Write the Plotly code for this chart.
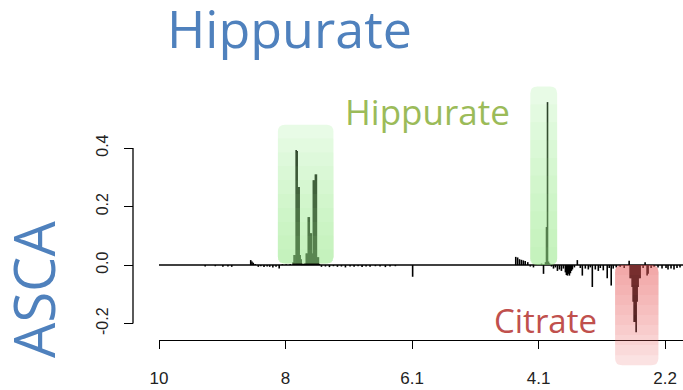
import numpy as np
import plotly.graph_objects as go

# ---------------- data ----------------
tick_ppm = [10, 8, 6.1, 4.1, 2.2]
tick_labels = ["10", "8", "6.1", "4.1", "2.2"]

y_ticks = [-0.2, 0.0, 0.2, 0.4]
y_tick_labels = ["-0.2", "0.0", "0.2", "0.4"]

spectrum_start = 10.0
spectrum_end = 1.93

ppm = [
    9.27, 9.11, 8.99, 8.91, 8.85, 8.55, 8.53, 8.51, 8.48, 8.43, 8.39, 8.34, 8.29, 8.25, 8.20, 8.15, 8.10,
    8.05, 7.99, 7.93,
    7.886, 7.871, 7.856, 7.840, 7.825, 7.810, 7.795, 7.780, 7.764, 7.749, 7.734, 7.719, 7.703,
    7.688, 7.673, 7.658, 7.643, 7.627, 7.612, 7.597, 7.582, 7.567, 7.551, 7.536, 7.521, 7.506, 7.49,
    7.46, 7.40, 7.34, 7.28, 7.22, 7.16, 7.10, 7.03, 6.97, 6.91, 6.85, 6.79, 6.73, 6.65, 6.58, 6.50,
    6.43, 6.35, 6.09,
    4.46, 4.43, 4.40, 4.37, 4.34, 4.31, 4.27, 4.23, 4.18,
    4.055, 4.025, 3.995, 3.980, 3.965, 3.950, 3.935, 3.905, 3.875, 3.846, 3.816, 3.786, 3.756,
    3.726, 3.696, 3.681, 3.666, 3.651, 3.636, 3.621, 3.606, 3.591, 3.561, 3.517, 3.472, 3.442,
    3.397, 3.352, 3.322, 3.292, 3.247, 3.202, 3.172, 3.127, 3.068, 3.038, 3.008, 2.978, 2.933,
    2.873, 2.813, 2.739,
    2.724, 2.709, 2.694, 2.679, 2.664, 2.649, 2.634, 2.619, 2.604, 2.589, 2.574,
    2.529, 2.499, 2.469, 2.454, 2.409, 2.364, 2.305, 2.245, 2.185, 2.155, 2.110, 2.065, 2.020, 1.975,
]
loading = [
    -0.005, -0.004, -0.006, -0.005, -0.006, 0.017, 0.012, 0.008, 0.004, -0.006, -0.004, -0.007, -0.005,
    -0.006, -0.008, -0.006, -0.012,
    0.003, 0.003, 0.004,
    0.010, 0.034, 0.034, 0.393, 0.390, 0.267, 0.267, 0.034, 0.020, 0.005, 0.004, 0.005, 0.006,
    0.040, 0.040, 0.164, 0.164, 0.109, 0.109, 0.040, 0.290, 0.290, 0.310, 0.310, 0.027, 0.027, 0.004,
    -0.006, -0.005, -0.007, -0.004, -0.006, -0.005, -0.008, -0.005, -0.006, -0.004, -0.007, -0.005,
    -0.006, -0.004, -0.005, -0.007, -0.005, -0.004, -0.040,
    0.028, 0.026, 0.020, 0.018, 0.016, 0.014, 0.010, -0.005, -0.008,
    0.005, -0.030, 0.010, 0.130, 0.557, 0.012, 0.006, -0.005, -0.012, -0.008, -0.020, -0.015, -0.020,
    -0.012, -0.025, -0.034, -0.036, -0.030, -0.036, -0.028, -0.020, -0.015, -0.008, 0.017, -0.010, -0.036,
    -0.012, -0.015, -0.008, -0.075, -0.015, -0.020, -0.010, -0.018, -0.045, -0.010, -0.070, -0.012, -0.008,
    -0.006, -0.010, 0.015,
    -0.045, -0.045, -0.075, -0.125, -0.195, -0.195, -0.230, -0.125, -0.075, -0.045, -0.045,
    -0.010, 0.010, -0.036, -0.030, -0.010, -0.006, -0.008, -0.012, -0.010, -0.015, -0.012, -0.015, -0.010, -0.008,
]

# highlighted regions: (ppm_left, ppm_right, loading_bottom, loading_top)
hippurate_regions = [(8.12, 7.28, 0.005, 0.48), (4.23, 3.82, 0.0, 0.61)]
citrate_region = (2.95, 2.30, -0.342, 0.0)

# ---------------- helpers ----------------
def ppm_to_pos(p):
    p = np.atleast_1d(np.asarray(p, float))
    t = np.array(tick_ppm, float)
    idx = np.arange(len(t), dtype=float)
    out = np.interp(-p, -t, idx)
    lo = p > t[0]
    hi = p < t[-1]
    out[lo] = (t[0] - p[lo]) / (t[0] - t[1])
    out[hi] = idx[-1] + (t[-1] - p[hi]) / (t[-2] - t[-1])
    return out

W, H = 683, 390
x_dom0 = 159 / W
y_range = [-0.427, 0.906]
x_range = [0, float(ppm_to_pos(spectrum_end)[0])]
px_per_u = (W - 159) / (x_range[1] - x_range[0])
px_per_v = H / (y_range[1] - y_range[0])


def rounded_path(x0, x1, y0, y1, r_px, rt=True, rb=True):
    rx = r_px / px_per_u
    ry = r_px / px_per_v
    s = f"M {x0},{y1 - ry * rt} "
    if rt:
        s += f"Q {x0},{y1} {x0 + rx},{y1} "
    s += f"L {x1 - rx * rt},{y1} "
    if rt:
        s += f"Q {x1},{y1} {x1},{y1 - ry} "
    s += f"L {x1},{y0 + ry * rb} "
    if rb:
        s += f"Q {x1},{y0} {x1 - rx},{y0} "
    s += f"L {x0 + rx * rb},{y0} "
    if rb:
        s += f"Q {x0},{y0} {x0},{y0 + ry} "
    return s + "Z"


def gradient_rect(shapes, region, rgb, a_top, a_bot, n=10, r_px=7):
    p0, p1, v0, v1 = region
    x0, x1 = sorted([float(ppm_to_pos(p0)[0]), float(ppm_to_pos(p1)[0])])
    col = f"rgb({rgb[0]},{rgb[1]},{rgb[2]})"
    base = min(a_top, a_bot)
    shapes.append(dict(type="path", path=rounded_path(x0, x1, v0, v1, r_px), xref="x", yref="y",
                       fillcolor=col, opacity=base, line=dict(width=0), layer="above"))
    d = 1 - ((1 - max(a_top, a_bot)) / (1 - base)) ** (1 / (n - 1))
    for k in range(1, n):
        if a_bot > a_top:  # saturated at bottom
            yk = v1 - (v1 - v0) * k / n
            path = rounded_path(x0, x1, v0, yk, r_px, rt=False, rb=True)
        else:  # saturated at top
            yk = v0 + (v1 - v0) * k / n
            path = rounded_path(x0, x1, yk, v1, r_px, rt=True, rb=False)
        shapes.append(dict(type="path", path=path, xref="x", yref="y", fillcolor=col,
                           opacity=d, line=dict(width=0), layer="above"))


# ---------------- figure ----------------
fig = go.Figure()

# baseline
fig.add_trace(go.Scatter(x=ppm_to_pos([spectrum_start, spectrum_end]), y=[0, 0], mode="lines",
                         line=dict(color="black", width=1.4), hoverinfo="skip", showlegend=False))

# sticks (type = "h")
pos = ppm_to_pos(ppm)
sx, sy = [], []
for u, v in zip(pos, loading):
    sx += [u, u, None]
    sy += [0, v, None]
fig.add_trace(go.Scatter(x=sx, y=sy, mode="lines", line=dict(color="black", width=1.6),
                         hoverinfo="skip", showlegend=False))

shapes = []
# y axis line (R style, only between extreme ticks)
yax_x = 133 / W
shapes.append(dict(type="line", xref="paper", yref="y", x0=yax_x, x1=yax_x, y0=y_ticks[0], y1=y_ticks[-1],
                   line=dict(color="black", width=1.3), layer="below"))

# white underlay hiding axis line under citrate box
c0, c1 = sorted([float(ppm_to_pos(citrate_region[0])[0]), float(ppm_to_pos(citrate_region[1])[0])])
shapes.append(dict(type="path", path=rounded_path(c0, c1, citrate_region[2], -0.26, 7, rt=False, rb=True),
                   xref="x", yref="y", fillcolor="white", line=dict(width=0), layer="above"))

for reg in hippurate_regions:
    gradient_rect(shapes, reg, (160, 240, 150), a_top=0.24, a_bot=0.58)
gradient_rect(shapes, citrate_region, (235, 100, 100), a_top=0.51, a_bot=0.19)

annotations = [
    dict(text="Hippurate", x=289 / W, y=1 - 28 / H, xref="paper", yref="paper", showarrow=False,
         xanchor="center", yanchor="middle", font=dict(family="Open Sans", size=52, color="#4F81BD")),
    dict(text="ASCA", x=33 / W, y=1 - 290 / H, xref="paper", yref="paper", showarrow=False, textangle=-90,
         xanchor="center", yanchor="middle", font=dict(family="Open Sans", size=56, color="#4F81BD")),
    dict(text="Hippurate", x=427.5 / W, y=1 - 111.4 / H, xref="paper", yref="paper", showarrow=False,
         xanchor="center", yanchor="middle", font=dict(family="Open Sans", size=35, color="#9BBB59")),
    dict(text="Citrate", x=545.5 / W, y=1 - 320.5 / H, xref="paper", yref="paper", showarrow=False,
         xanchor="center", yanchor="middle", font=dict(family="Open Sans", size=33, color="#C0504D")),
]

x_tick_font = dict(family="Liberation Sans", size=17, color="#222222")
y_tick_font = dict(family="Liberation Sans", size=16, color="#222222")

fig.update_layout(
    width=W, height=H, margin=dict(l=0, r=0, t=0, b=0, autoexpand=False),
    paper_bgcolor="white", plot_bgcolor="white",
    shapes=shapes, annotations=annotations, showlegend=False,
    xaxis=dict(domain=[x_dom0, 1], range=x_range, anchor="free", position=1 - 340 / H, automargin=False,
               tickvals=list(range(len(tick_ppm))), ticktext=tick_labels, ticks="outside", ticklen=8,
               tickwidth=1.3, tickcolor="black", showline=True, linecolor="black", linewidth=1.3,
               showgrid=False, zeroline=False, tickfont=x_tick_font, ticklabelstandoff=14),
    yaxis=dict(domain=[0, 1], range=y_range, anchor="free", position=yax_x, side="left", automargin=False,
               tickvals=y_ticks, ticktext=y_tick_labels, ticks="outside", ticklen=9, tickwidth=1.3,
               tickcolor="black", showline=False, showgrid=False, zeroline=False, tickangle=-90,
               tickfont=y_tick_font, ticklabelstandoff=10),
)

fig.write_html("out.html")
